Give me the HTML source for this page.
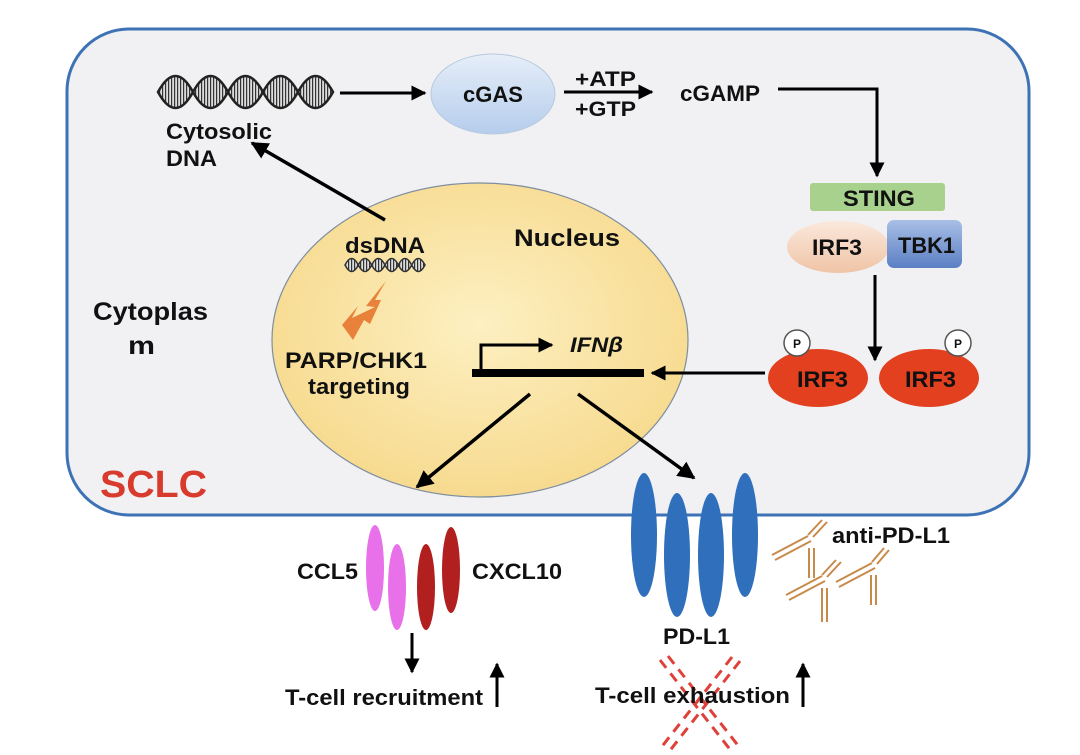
<!DOCTYPE html>
<html><head><meta charset="utf-8"><style>
html,body{margin:0;padding:0;background:#fff;}
svg{display:block;}
text{font-family:"Liberation Sans",Arial,sans-serif;font-weight:bold;fill:#111;}
</style></head><body>
<svg width="1080" height="755" viewBox="0 0 1080 755" xmlns="http://www.w3.org/2000/svg">
<defs>
<marker id="ah" viewBox="0 0 10 10" refX="9" refY="5" markerWidth="5" markerHeight="5" orient="auto"><path d="M0,0L10,5L0,10z" fill="#000"/></marker>
<pattern id="stripe" width="3" height="10" patternUnits="userSpaceOnUse"><rect width="3" height="10" fill="#ddd"/><rect width="1.2" height="10" fill="#333"/></pattern>
<radialGradient id="nuc" cx="50%" cy="45%" r="60%"><stop offset="0" stop-color="#fdf0c2"/><stop offset="1" stop-color="#f6d88a"/></radialGradient>
<linearGradient id="cg" x1="0" y1="0" x2="0" y2="1"><stop offset="0" stop-color="#e6eef9"/><stop offset="1" stop-color="#b5cdec"/></linearGradient>
<linearGradient id="tb" x1="0" y1="0" x2="0" y2="1"><stop offset="0" stop-color="#a9bfe6"/><stop offset="1" stop-color="#5b7fc4"/></linearGradient>
<linearGradient id="ir" x1="0" y1="0" x2="0" y2="1"><stop offset="0" stop-color="#fbe8dc"/><stop offset="1" stop-color="#efc4a6"/></linearGradient>
</defs>
<rect x="67" y="29" width="962" height="486" rx="62" fill="#f1f1f3" stroke="#3d72b5" stroke-width="3"/>
<ellipse cx="480" cy="340" rx="208" ry="157" fill="url(#nuc)" stroke="#7e8ea0" stroke-width="1.2"/>

<!-- cytosolic DNA -->
<path d="M158,92 Q175.5,60 193,92 Q210.5,124 228,92 Q245.5,60 263,92 Q280.5,124 298,92 Q315.5,60 333,92 Q315.5,124 298,92 Q280.5,60 263,92 Q245.5,124 228,92 Q210.5,60 193,92 Q175.5,124 158,92Z" fill="url(#stripe)" stroke="#222" stroke-width="2.5"/>
<text x="166" y="139" font-size="22" textLength="106" lengthAdjust="spacingAndGlyphs">Cytosolic</text>
<text x="166" y="166" font-size="22" textLength="51" lengthAdjust="spacingAndGlyphs">DNA</text>
<line x1="340" y1="93" x2="425" y2="93" stroke="#000" stroke-width="3" marker-end="url(#ah)"/>
<ellipse cx="493" cy="94" rx="62" ry="40" fill="url(#cg)" stroke="#b7c9de"/>
<text x="463" y="102" font-size="22" textLength="60" lengthAdjust="spacingAndGlyphs">cGAS</text>
<text x="575" y="86" font-size="21" textLength="61" lengthAdjust="spacingAndGlyphs">+ATP</text>
<text x="575" y="116" font-size="21" textLength="61" lengthAdjust="spacingAndGlyphs">+GTP</text>
<line x1="564" y1="92" x2="652" y2="92" stroke="#000" stroke-width="3" marker-end="url(#ah)"/>
<text x="680" y="101" font-size="22" textLength="80" lengthAdjust="spacingAndGlyphs">cGAMP</text>
<polyline points="778,89 877,89 877,176" fill="none" stroke="#000" stroke-width="3" marker-end="url(#ah)"/>

<rect x="810" y="183" width="135" height="28" rx="3" fill="#a9d18e"/>
<text x="843" y="206" font-size="22" textLength="72" lengthAdjust="spacingAndGlyphs">STING</text>
<ellipse cx="838" cy="247" rx="51" ry="26" fill="url(#ir)"/>
<text x="812" y="255" font-size="22" textLength="50" lengthAdjust="spacingAndGlyphs">IRF3</text>
<rect x="887" y="220" width="75" height="48" rx="7" fill="url(#tb)"/>
<text x="898" y="253" font-size="22" textLength="57" lengthAdjust="spacingAndGlyphs">TBK1</text>
<line x1="875" y1="275" x2="875" y2="360" stroke="#000" stroke-width="3" marker-end="url(#ah)"/>
<ellipse cx="818" cy="378" rx="50" ry="29" fill="#e2401f"/>
<ellipse cx="929" cy="378" rx="50" ry="29" fill="#e2401f"/>
<text x="797" y="387" font-size="22" textLength="51" lengthAdjust="spacingAndGlyphs">IRF3</text>
<text x="905" y="387" font-size="22" textLength="51" lengthAdjust="spacingAndGlyphs">IRF3</text>
<circle cx="797" cy="343" r="13" fill="#fff" stroke="#555" stroke-width="1.5"/>
<circle cx="958" cy="343" r="13" fill="#fff" stroke="#555" stroke-width="1.5"/>
<text x="797" y="348" font-size="12" text-anchor="middle">P</text>
<text x="958" y="348" font-size="12" text-anchor="middle">P</text>
<line x1="765" y1="373" x2="652" y2="373" stroke="#000" stroke-width="3" marker-end="url(#ah)"/>

<!-- gene -->
<rect x="472" y="369" width="172" height="8" fill="#000"/>
<polyline points="481,369 481,345 552,345" fill="none" stroke="#000" stroke-width="3" marker-end="url(#ah)"/>
<text x="570" y="352" font-size="21" font-style="italic" textLength="53" lengthAdjust="spacingAndGlyphs">IFNβ</text>
<line x1="530" y1="394" x2="417" y2="487" stroke="#000" stroke-width="3.5" marker-end="url(#ah)"/>
<line x1="578" y1="394" x2="694" y2="478" stroke="#000" stroke-width="3.5" marker-end="url(#ah)"/>

<!-- nucleus contents -->
<text x="514" y="246" font-size="24" textLength="106" lengthAdjust="spacingAndGlyphs">Nucleus</text>
<text x="345" y="253" font-size="22" textLength="80" lengthAdjust="spacingAndGlyphs">dsDNA</text>
<path d="M345,265 Q351.7,252 358.3,265 Q365,278 371.7,265 Q378.3,252 385,265 Q391.7,278 398.3,265 Q405,252 411.7,265 Q418.3,278 425,265 Q418.3,252 411.7,265 Q405,278 398.3,265 Q391.7,252 385,265 Q378.3,278 371.7,265 Q365,252 358.3,265 Q351.7,278 345,265Z" fill="url(#stripe)" stroke="#333" stroke-width="1.5"/>
<line x1="385" y1="220" x2="252" y2="143" stroke="#000" stroke-width="3.5" marker-end="url(#ah)"/>
<path d="M386,281 L366,306 L375,307 L352,318 L358,306 L342,325 L353,340 L364,320 L370,324 L381,300 L375,300z" fill="#e8823a"/>
<text x="285" y="368" font-size="22" textLength="142" lengthAdjust="spacingAndGlyphs">PARP/CHK1</text>
<text x="308" y="394" font-size="22" textLength="102" lengthAdjust="spacingAndGlyphs">targeting</text>
<text x="93" y="320" font-size="25" textLength="115" lengthAdjust="spacingAndGlyphs">Cytoplas</text>
<text x="128" y="354" font-size="25" textLength="27" lengthAdjust="spacingAndGlyphs">m</text>
<text x="100" y="497" font-size="38" textLength="107" lengthAdjust="spacingAndGlyphs" style="fill:#d93a2e">SCLC</text>

<!-- chemokines -->
<ellipse cx="375" cy="568" rx="9" ry="43" fill="#e870e8"/>
<ellipse cx="397" cy="587" rx="9" ry="43" fill="#e870e8"/>
<ellipse cx="426" cy="587" rx="9" ry="43" fill="#b21f1f"/>
<ellipse cx="451" cy="570" rx="9" ry="43" fill="#b21f1f"/>
<text x="297" y="579" font-size="22" textLength="61" lengthAdjust="spacingAndGlyphs">CCL5</text>
<text x="472" y="579" font-size="22" textLength="90" lengthAdjust="spacingAndGlyphs">CXCL10</text>
<line x1="412" y1="633" x2="412" y2="672" stroke="#000" stroke-width="3" marker-end="url(#ah)"/>
<text x="285" y="705" font-size="22" textLength="198" lengthAdjust="spacingAndGlyphs">T-cell recruitment</text>
<line x1="497" y1="707" x2="497" y2="664" stroke="#000" stroke-width="3" marker-end="url(#ah)"/>

<!-- PD-L1 -->
<ellipse cx="644" cy="535" rx="13" ry="62" fill="#2f6fbc"/>
<ellipse cx="677" cy="555" rx="13" ry="62" fill="#2f6fbc"/>
<ellipse cx="711" cy="555" rx="13" ry="62" fill="#2f6fbc"/>
<ellipse cx="745" cy="535" rx="13" ry="62" fill="#2f6fbc"/>
<text x="663" y="644" font-size="22" textLength="67" lengthAdjust="spacingAndGlyphs">PD-L1</text>
<text x="832" y="543" font-size="22" textLength="118" lengthAdjust="spacingAndGlyphs">anti-PD-L1</text>
<g stroke="#c88a4a" stroke-width="2" fill="none">
<path d="M772,555 L808,536 M775,560 L811,541 M808,535 L822,520 M813,537 L827,522 M809,548 V578 M814,548 V578"/>
<path d="M786,595 L822,576 M789,600 L825,581 M822,575 L836,560 M827,577 L841,562 M822,588 V622 M827,588 V622"/>
<path d="M836,582 L872,563 M839,587 L875,568 M872,562 L884,548 M877,564 L889,550 M871,575 V605 M876,575 V605"/>
</g>
<g stroke="#e0403a" stroke-width="3" stroke-dasharray="10,7" fill="none">
<line x1="660" y1="660" x2="732" y2="752"/>
<line x1="668" y1="656" x2="740" y2="748"/>
<line x1="732" y1="657" x2="660" y2="749"/>
<line x1="740" y1="661" x2="668" y2="753"/>
</g>
<text x="595" y="703" font-size="22" textLength="195" lengthAdjust="spacingAndGlyphs">T-cell exhaustion</text>
<line x1="803" y1="707" x2="803" y2="664" stroke="#000" stroke-width="3" marker-end="url(#ah)"/>
</svg>
</body></html>
